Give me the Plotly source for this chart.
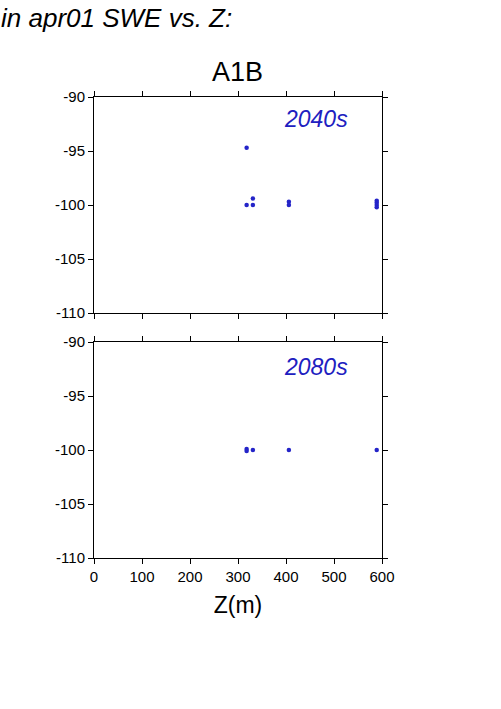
import plotly.graph_objects as go

# 2040s panel
z_2040 = [318, 318, 331, 331, 406, 406, 589, 589, 589, 589]
swe_2040 = [-94.7, -100.0, -100.0, -99.4, -99.7, -100.0, -99.6, -99.8, -100.0, -100.2]
# 2080s panel
z_2080 = [318, 318, 331, 406, 589]
swe_2080 = [-99.9, -100.1, -100.0, -100.0, -100.0]

x_ticks = [0, 100, 200, 300, 400, 500, 600]
x_labels = ["0", "100", "200", "300", "400", "500", "600"]
y_ticks = [-110, -105, -100, -95, -90]
y_labels = ["-110", "-105", "-100", "-95", "-90"]

W, H = 501, 709
def px_x(p): return p / W
def px_y(p): return 1 - p / H

dot = "#2424c8"
font = "Liberation Sans, Arial, sans-serif"

fig = go.Figure()
fig.add_trace(go.Scatter(x=z_2040, y=swe_2040, mode="markers", xaxis="x", yaxis="y",
                         marker=dict(size=4.5, color=dot), showlegend=False))
fig.add_trace(go.Scatter(x=z_2080, y=swe_2080, mode="markers", xaxis="x2", yaxis="y2",
                         marker=dict(size=4.5, color=dot), showlegend=False))

axis_common = dict(showgrid=False, zeroline=False, showline=True, linecolor="black",
                   linewidth=1, mirror="allticks", ticks="outside", ticklen=5,
                   tickcolor="black", automargin=False,
                   tickfont=dict(family=font, size=15, color="black"))

fig.update_layout(
    template="none",
    width=W, height=H, margin=dict(l=0, r=0, t=0, b=0, pad=0),
    paper_bgcolor="white", plot_bgcolor="white",
    xaxis=dict(domain=[px_x(94), px_x(382)], range=[0, 600], tickvals=x_ticks, ticktext=x_labels,
               showticklabels=False, anchor="y", **axis_common),
    yaxis=dict(domain=[px_y(313), px_y(97)], range=[-110, -90], tickvals=y_ticks, ticktext=y_labels,
               anchor="x", **axis_common),
    xaxis2=dict(domain=[px_x(94), px_x(382)], range=[0, 600], tickvals=x_ticks, ticktext=x_labels,
                anchor="y2", title=dict(text="Z(m)", font=dict(family=font, size=23, color="black"),
                                        standoff=12), **axis_common),
    yaxis2=dict(domain=[px_y(558), px_y(342)], range=[-110, -90], tickvals=y_ticks, ticktext=y_labels,
                anchor="x2", **axis_common),
    annotations=[
        dict(text="<i>in apr01 SWE vs. Z:</i>", xref="paper", yref="paper", x=px_x(-1), y=px_y(18),
             xanchor="left", yanchor="middle", showarrow=False,
             font=dict(family=font, size=26, color="black")),
        dict(text="A1B", xref="paper", yref="paper", x=px_x(237), y=px_y(72),
             xanchor="center", yanchor="middle", showarrow=False,
             font=dict(family=font, size=27, color="black")),
        dict(text="<i>2040s</i>", xref="paper", yref="paper", x=px_x(350), y=px_y(119),
             xanchor="right", yanchor="middle", showarrow=False,
             font=dict(family=font, size=23, color="#2020c0")),
        dict(text="<i>2080s</i>", xref="paper", yref="paper", x=px_x(350), y=px_y(367),
             xanchor="right", yanchor="middle", showarrow=False,
             font=dict(family=font, size=23, color="#2020c0")),
    ],
)

fig.write_html("out.html", config={"displayModeBar": False},
               post_script="document.body.style.margin='0';")
